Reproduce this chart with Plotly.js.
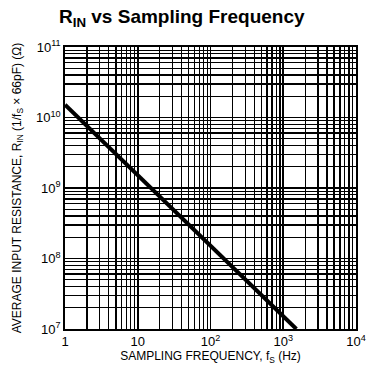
<!DOCTYPE html>
<html><head><meta charset="utf-8">
<script src="https://cdn.plot.ly/plotly-3.0.1.min.js"></script>
<style>body{margin:0;background:#fff}#c{width:371px;height:371px}</style>
</head><body><div id="c"></div>
<script>
const freqHz = [1, 1515];
const rinOhm = [1.515e10, 1e7];
const xTickVals = [1, 10, 100, 1000, 10000];
const xTickText = ['1', '10', '10<sup>2</sup>', '10<sup>3</sup>', '10<sup>4</sup>'];
const yTickVals = [1e7, 1e8, 1e9, 1e10, 1e11];
const yTickText = ['10<sup>7</sup>', '10<sup>8</sup>', '10<sup>9</sup>', '10<sup>10</sup>', '10<sup>11</sup>'];

const font = 'Liberation Sans Narrow, Arial Narrow, Liberation Sans, Arial, sans-serif';
const trace = {x: freqHz, y: rinOhm, mode: 'lines', line: {color: '#000', width: 4}, hoverinfo: 'skip'};
const axisCommon = {
  type: 'log', showline: true, linecolor: '#000', linewidth: 1.8, mirror: true,
  showgrid: true, gridcolor: '#000', gridwidth: 1.6, zeroline: false,
  ticks: '', tickfont: {family: font, size: 13, color: '#000'},
  minor: {showgrid: true, gridcolor: '#000', gridwidth: 1.3, dtick: 'D1'}
};
const layout = {
  width: 371, height: 371,
  margin: {l: 65, r: 15, t: 47, b: 42},
  paper_bgcolor: '#fff', plot_bgcolor: '#fff',
  showlegend: false,
  font: {family: font, color: '#000'},
  title: {text: '<b>R<sub>IN</sub> vs Sampling Frequency</b>', font: {family: font, size: 19, color: '#000'},
          xref: 'container', x: 0.49, xanchor: 'center', yref: 'container', y: 0.955, yanchor: 'middle'},
  xaxis: Object.assign({}, axisCommon, {
    range: [0, 4], tickvals: xTickVals, ticktext: xTickText,
    title: {text: 'SAMPLING FREQUENCY, f<sub>S</sub> (Hz)', font: {family: font, size: 12, color: '#000'}, standoff: 2}
  }),
  yaxis: Object.assign({}, axisCommon, {
    range: [7, 11], tickvals: yTickVals, ticktext: yTickText,
    title: {text: 'AVERAGE INPUT RESISTANCE, R<sub>IN</sub> (1/f<sub>S</sub> × 66pF) (Ω)', font: {family: font, size: 12, color: '#000'}, standoff: 12}
  })
};
Plotly.newPlot('c', [trace], layout, {staticPlot: true, displayModeBar: false});
</script></body></html>
